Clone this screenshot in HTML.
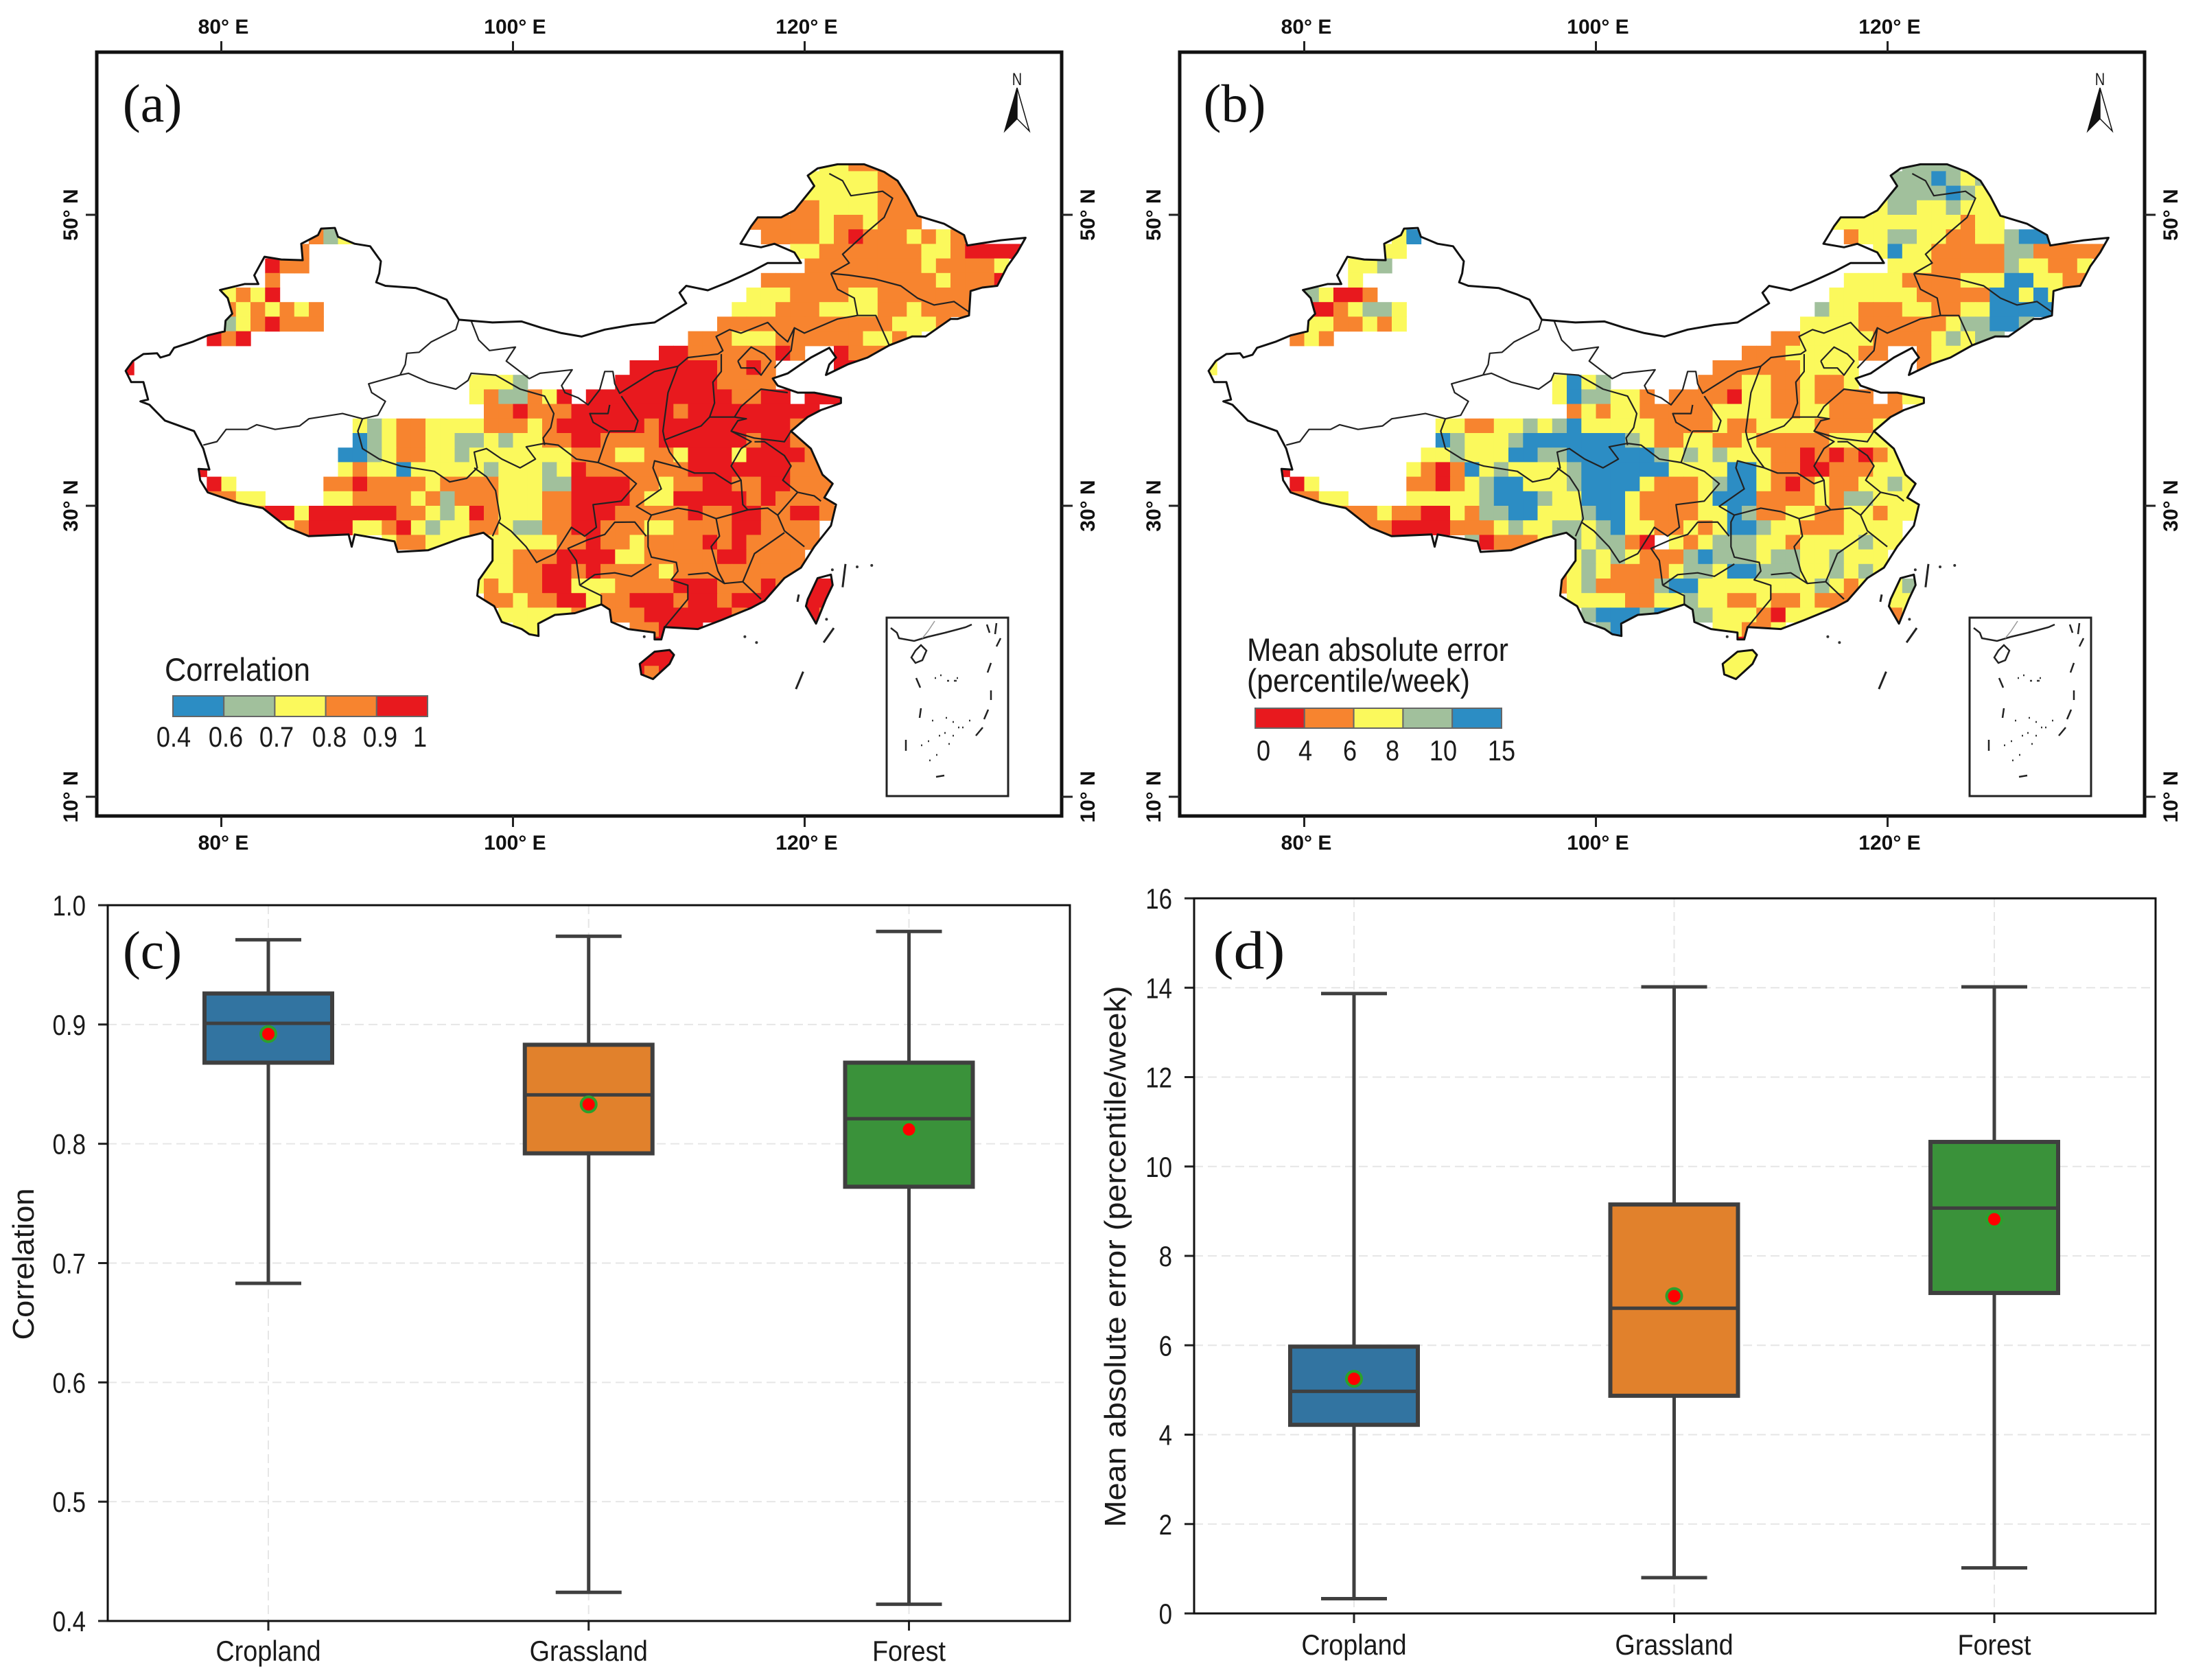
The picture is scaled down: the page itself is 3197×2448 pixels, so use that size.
<!DOCTYPE html>
<html lang="en">
<head>
<meta charset="utf-8">
<title>Correlation and mean absolute error maps and box plots</title>
<style>
html,body{margin:0;padding:0;background:#fff;}
svg{display:block;}
text{font-family:"Liberation Sans",Arial,sans-serif;fill:#1a1a1a;}
.serif{font-family:"Liberation Serif","Times New Roman",serif;fill:#111;}
.geo{font-weight:bold;font-size:30px;fill:#111;}
</style>
</head>
<body>
<svg id="fig" xmlns="http://www.w3.org/2000/svg" width="3197" height="2448" viewBox="0 0 3197 2448">
<rect x="0" y="0" width="3197" height="2448" fill="#ffffff"/>
</svg>
<script>
// ---------- map data ----------
var lonTicks = [80, 100, 120];
var latTicks = [50, 30, 10];

// Heatmap cells: "lat:lon:classes", one class letter per 1 degree cell (r,o,y,g,b)
var correlationRows = [
"53:121:yyooo","52:120:yyyyyoo","51:120:yyyyyooo","50:119:ooyyyyooo","49:116:oooooyooyooo",
"48:86:ogy","48:117:ooooyoroooyoyo",
"47:85:o","47:119:yyoooooooyyorrrr",
"46:83:roo","46:120:ooooooooyooooy",
"45:83:o","45:117:ooooooooooooyooor",
"44:80:yoyr","44:116:yyyooooyyooooooo",
"43:80:oyoyoyo","43:115:yyyoooyyyyooyoooo",
"42:80:gyorooo","42:114:ooooooooooooyyyo",
"41:79:ror","41:112:oooyyyoooooo","41:124:yyoy",
"40:110:rrooooooro","40:122:rooo",
"39:73:r","39:108:rrrrrrooro","39:122:rro",
"38:97:yyyg","38:107:rrrrrrroooo",
"37:97:yoggoyr","37:105:rrrrrrrrrroorr","37:120:rrr",
"36:98:oorooorr","36:105:rrrrrrorrrrrrrrr",
"35:89:ygyooyyyyoooyorr","35:105:rrrrorrrrrrrrro",
"34:89:bgyooyyggygyyoor","34:105:roooorrrrrrorrooo",
"33:88:bbgyooyygyyyyyyyo","33:105:ooyyooyrrryrrrroo",
"32:78:r","32:88:yoyybyyyyygyyygyr","32:105:ooooooorrrrrrrooo",
"31:79:ry","31:87:oorooooyooooyyyggr","31:105:rrrooyoorroorroooo",
"30:79:ooyy","30:87:yyooooyogoooyyyoor","30:105:rrroyyrrrrroroooo",
"29:81:oorryrrrrrrooygyroyyyoor","29:105:rroooooroorroorroo",
"28:84:yorrryyorygyyooyggoor","28:105:roooyyoooorroooo",
"27:91:yooyyyyyyyyyoor","27:105:rooyoooororooooo",
"26:98:yyooorr","26:105:rryyooooorroooo",
"25:97:yyyoorror","25:105:rooooyooooooooo",
"24:97:yoyoorry","24:105:yyoooorrroooro","24:120:rr",
"23:98:ooyoorr","23:105:yoorrrorrorrr","23:120:rr",
"22:99:yyyyyo","22:105:oooorrrrrro","22:120:ro",
"21:100:yy","21:108:oorrr","21:120:r",
"20:101:y","20:109:rr","19:108:rrr","18:108:ror"
];
var maeRows = [
"53:121:ggggg","52:120:gggbgyg","51:120:ggggbgyy","50:119:yggyygyyy","49:116:yyyyyyyyyoyy",
"48:86:yb","48:117:oyyggyyooyygbb",
"47:85:yy","47:119:ybyyoooooggooooo",
"46:83:yyg","46:120:yyyooooogyyooy",
"45:83:y","45:117:yyyyooooyyybbyyoo",
"44:80:gyrro","44:116:yyyyyyooooobbyby",
"43:80:rroyggy","43:115:gyyoooyyooyybbbbb",
"42:80:yyooyoy","42:114:yyyyooooooyggbbg",
"41:79:oyo","41:112:ooyyyyyooooygygg",
"40:110:oooyyyyyoo","40:122:oyyy",
"39:73:y","39:108:ooooooyyyy","39:122:oy",
"38:97:ybyg","38:107:oooyyooyooy",
"37:97:ybggyyo","37:105:ooooryyooyoooo","37:120:oyy",
"36:98:oyoyyoo","36:105:oooyyyyooyyooooo",
"35:89:yyooyygygbyyyyyo","35:105:oooyooyyyyooooy",
"34:89:bgyyygbbbbbbbgyo","34:105:oyyooyoooooyyyyy",
"33:88:yygyyybbggbbbbbbg","33:105:ygygyyyoorororoyy",
"32:78:r","32:87:yorobygyyyygbbbbbby","32:105:yyyybbyoorroooyyyy",
"31:79:ry","31:87:ooroygbbyyygbbbbyo","31:105:ooygbbyoroyooyygy",
"30:79:ooyy","30:87:yyyyygbbbgyybbbyoo","30:105:ooybbbooooyoggyyy",
"29:81:ooooyoorryoggbbyyygbbyoo","29:105:ooyybgooyyooyyoyy",
"28:84:oorrrroooygyyggygbyyo","28:105:oyoybbgyyoooyyyy",
"27:91:groooyggygg","27:102:or","27:105:yoygggyyoyyyygyy",
"26:98:ygygyoo","26:105:ogbgggyggyygyyy",
"25:97:oygyoooo","25:105:yggybbgggyygygy",
"24:97:oygoooog","24:105:bbyyyyyyyygyoy","24:120:yg",
"23:98:yyyyooy","23:105:ygyyooyooyooo","23:120:yy",
"22:99:gbbbgb","22:105:bggyyyoryyy","22:120:oy",
"21:100:gb","21:108:yyooy","21:120:r",
"20:101:b","20:109:rr","19:108:yyy","18:108:yyy"
];

// Territory outlines as [lon, lat]
var mainlandOutline = [[73.44,39.27],[73.93,39.95],[74.66,40.43],[75.6,40.48],[75.82,40.19],[76.45,40.38],[76.76,40.86],[78.02,41.27],[79.07,41.71],[80.23,41.99],[80.29,42.72],[80.75,43.2],[80.44,44.28],[79.91,44.83],[81.59,45.24],[82.54,45.24],[82.26,45.84],[82.96,47.12],[84.11,46.93],[85.58,46.88],[85.48,48.01],[86.63,48.61],[86.84,49.05],[87.79,49.1],[88,48.49],[89.15,48.01],[90.2,47.84],[90.94,46.81],[90.83,45.97],[90.62,45.36],[91.25,45.12],[93.35,44.96],[94.61,44.52],[95.45,44.16],[96.29,42.79],[98.6,42.6],[100.59,42.67],[101.96,42.23],[103.33,41.87],[104.7,41.63],[106.29,42.11],[108.12,42.43],[109.71,42.6],[111.31,43.56],[111.88,43.92],[111.42,44.64],[111.88,45.12],[113.36,44.81],[114.73,45.36],[116.33,46.09],[117.47,46.69],[119.75,46.69],[119.3,47.41],[117.93,48.01],[117.01,47.77],[115.6,48.01],[116.33,49.21],[116.78,49.82],[118.38,49.82],[119.3,50.3],[120.66,51.98],[120.21,52.7],[120.89,53.19],[122.26,53.47],[124.08,53.47],[125.45,52.95],[126.37,52.34],[127.05,51.26],[127.73,49.94],[129.56,49.38],[130.93,48.61],[131.16,47.89],[133.44,48.25],[135.15,48.42],[134.58,47.41],[133.89,46.45],[133.21,45.12],[132.18,45],[131.38,44.76],[131.27,43.08],[130.47,42.84],[130.01,42.84],[128.3,41.64],[127.39,41.64],[125.8,41.03],[124.31,40.19],[122.94,39.71],[121.46,38.99],[121.69,39.71],[122.15,40.19],[121.69,40.86],[120.43,40.19],[118.84,39.1],[117.81,38.75],[118.15,38.26],[119.52,37.78],[120.66,37.78],[122.49,37.42],[122.49,37.06],[121.12,36.58],[120.2,36.1],[119.07,35.13],[120.43,33.93],[121.23,32.13],[121.92,31.52],[121.35,30.56],[122.15,30.08],[121.8,28.63],[120.66,27.19],[119.75,25.75],[118.61,25.03],[117.24,23.46],[116.33,22.98],[114.28,22.14],[112.68,21.53],[110.4,21.66],[110.17,20.81],[109.71,20.81],[109.71,21.29],[107.89,21.53],[106.75,22.02],[106.63,22.86],[106.06,23.22],[104.24,22.62],[102.87,22.5],[101.73,21.9],[101.75,21.05],[101.12,21.17],[100.6,21.53],[99.23,22.02],[98.71,23.1],[97.55,23.82],[97.66,24.9],[98.6,26.23],[98.6,27.67],[97.97,28.15],[96.5,27.79],[94.19,26.95],[92.09,26.83],[91.88,27.55],[89.15,28.03],[88.94,27.19],[88.73,28.03],[86,27.91],[84.53,28.51],[82.85,29.84],[81.17,30.2],[79.07,30.92],[78.55,31.76],[78.44,32.54],[79.18,32.49],[78.76,33.93],[78.13,35.13],[76.13,35.86],[75.08,36.94],[74.45,37.18],[74.98,37.3],[74.66,38.5],[73.82,38.5]];
var taiwanOutline = [[121.8,25.27],[120.89,25.03],[120.21,23.58],[120.09,23.1],[120.78,21.9],[121.46,23.58],[121.92,24.55]];
var hainanOutline = [[110.74,20.09],[109.71,19.97],[108.69,19.13],[108.8,18.41],[109.6,18.09],[110.74,19.13],[111.04,19.75]];
var provinceLines = [
[[96.29,42.79],[96.08,42.11],[94.4,41.27],[93.56,40.55],[92.72,40.48],[92.61,39.71],[92.26,38.99]],
[[92.26,38.99],[92.83,39.11],[94.19,38.5],[96.08,38.02],[96.92,38.62],[97.13,39.11],[98.81,38.98],[100.49,38.02],[102.17,37.54],[102.8,36.34],[102.59,35.37],[102.07,34.66],[102.17,34.17]],
[[92.26,38.99],[90.1,38.38],[90.31,37.78],[91.25,37.18],[90.73,36.22],[89.68,35.98]],
[[89.68,35.98],[88.31,36.34],[86,35.98],[85.37,35.49],[83.69,35.25],[82.43,35.57],[81.8,35.25],[80.33,35.25],[79.7,34.41],[78.76,34.17]],
[[89.68,35.98],[89.36,35.13],[89.68,33.93],[90.83,33.21],[92.3,32.73],[94.61,32.37],[95.66,31.64],[96.82,31.88],[97.55,32.61],[97.34,33.69],[98.18,33.93],[99.23,33.21],[100.49,32.61],[101.54,33.21],[100.91,34.05],[102.17,34.29],[103.1,34.17],[104.35,33.21],[105.84,32.97]],
[[97.34,32.61],[98.18,32],[98.81,31.04],[99.13,29.12],[98.6,27.91]],
[[99.02,28.87],[99.86,28.27],[100.9,27.19],[101.62,26.11],[102.87,26.71],[103.55,27.79],[104.01,28.52],[104.92,27.91],[105.72,28.52],[105.49,30.08],[107.43,30.32],[108.46,31.52],[107.43,32.37],[105.84,32.97],[106.41,34.65],[106.63,35.13]],
[[96.29,42.79],[97.13,42.72],[97.65,41.39],[98.39,40.67],[100.17,40.91],[99.54,39.95],[101.12,38.74],[101.85,39.11],[104.06,39.35],[103.33,38.26],[103.56,37.78],[104.47,37.42],[105.15,36.94],[105.95,37.98],[106.29,39.23],[106.85,39.23],[106.98,38.38],[107.32,37.73],[108.35,38.38],[109.71,39.23],[111.31,39.59],[112,40.19],[114.05,40.43],[114.39,40.67],[113.93,41.63],[114.85,42.11],[115.64,41.87],[117.47,42.6],[118.15,41.87],[118.84,41.27],[119.3,42.23],[119.98,41.87],[122.26,42.84],[123.63,43.08],[124.88,43.08],[125.8,41.03]],
[[121.8,45.97],[123.06,45.85],[124.77,45.6],[126.59,45.12],[127.73,44.28],[128.87,43.8],[130.24,44.04],[131.27,43.32]],
[[121.8,45.97],[122.26,44.88],[123.4,44.28],[123.63,43.08]],
[[121.8,45.97],[123.06,46.69],[122.6,47.29],[124.31,48.85],[125.45,49.82],[126.03,51.14],[125.34,51.62],[123.17,51.31],[122.6,52.34],[121.69,52.83]],
[[111.31,39.59],[110.63,37.78],[110.28,35.13],[110.4,34.53],[112.9,35.49],[113.48,36.1],[113.82,37.06],[113.71,38.5],[114.28,39.23],[114.28,40.43]],
[[110.4,34.53],[110.74,33.69],[111.54,32.61],[112.45,32.25],[113.82,32.25],[114.96,31.52],[115.64,31.76],[114.96,32.73],[115.64,33.93],[116.33,34.41],[114.96,35.13],[115.42,35.85],[116,35.98],[115.19,36.1],[113.48,36.1]],
[[115.19,36.1],[115.64,36.82],[117.01,38.02],[118.84,37.78]],
[[114.96,35.13],[116.56,34.65],[118.61,34.4],[119.07,35.13]],
[[115.42,39.95],[116.33,40.91],[117.24,40.43],[117.7,39.95],[117.01,38.98],[116.56,39.47],[115.64,39.47],[115.42,39.95]],
[[119.3,42.23],[119.07,40.67],[117.93,39.47]],
[[116.56,34.4],[117.24,34.41],[118.61,33.45],[119.07,32.73],[118.5,31.76],[119.52,30.93],[120.66,30.68],[121.12,30.32]],
[[115.64,31.76],[115.76,30.08],[116.1,29.72],[117.47,29.84],[118.15,29.36],[119.52,30.93]],
[[118.15,29.36],[118.61,28.28],[119.98,27.19]],
[[118.61,28.15],[116.56,26.71],[115.76,24.78],[117.01,23.58]],
[[116.1,29.72],[113.93,29.12],[114.16,27.91],[113.59,27.19],[114.05,25.51],[114.5,24.66],[115.76,24.78]],
[[113.93,29.12],[112.68,29.6],[111.31,29.84],[109.49,29.36],[109.26,28.88],[109.26,27.19],[109.49,26.47],[111.2,26.11],[111.31,25.51],[110.85,24.91],[111.99,24.54],[111.99,23.58],[110.4,21.66]],
[[111.54,32.61],[109.71,33.09],[109.6,32.61],[110.17,31.16],[108.46,29.96],[109.49,29.36]],
[[112,25.27],[113.36,25.39],[114.5,24.66]],
[[104.58,24.54],[105.61,25.27],[106.98,25.39],[108.12,25.15],[109.49,26]],
[[104.58,24.54],[106.06,23.82],[106.06,23.22]],
[[104.58,24.54],[104.35,26.23],[103.78,27.07],[105.15,27.67],[106.29,28.03],[106.98,28.87],[108.35,28.88],[109.14,27.91]],
[[106.63,36.94],[106.52,36.34],[105.27,36.34],[105.49,35.74],[106.52,35.13]],
[[106.63,35.13],[108.35,35.13],[108.57,35.85],[107.43,37.54]]
];
var seaDashes = [[[122.8,26],[122.6,24.4]],[[122.0,21.6],[121.3,20.6]],[[119.9,18.6],[119.4,17.4]],[[119.6,23.9],[119.5,23.4]]];
var seaDots = [[115.9,21.0],[116.7,20.6],[123.6,25.8],[124.6,25.9],[121.9,25.6],[121.5,22.2],[109.0,21.0]];

// ---------- legend data ----------
var correlationLegendLabels = ["0.4","0.6","0.7","0.8","0.9","1"];
var maeLegendLabels = ["0","4","6","8","10","15"];
var correlationLegendClasses = ["b","g","y","o","r"];
var maeLegendClasses = ["r","o","y","g","b"];

// ---------- box plot data ----------
var landCategories = ["Cropland","Grassland","Forest"];
var corrTicks = [0.4,0.5,0.6,0.7,0.8,0.9,1.0];
var corrWhiskerLow = [0.683,0.424,0.414];
var corrQ1 = [0.868,0.792,0.764];
var corrMedian = [0.901,0.841,0.821];
var corrQ3 = [0.926,0.883,0.868];
var corrWhiskerHigh = [0.971,0.974,0.978];
var corrMean = [0.892,0.833,0.812];
var maeTicks = [0,2,4,6,8,10,12,14,16];
var maeWhiskerLow = [0.33,0.8,1.02];
var maeQ1 = [4.22,4.87,7.17];
var maeMedian = [4.97,6.83,9.07];
var maeQ3 = [5.97,9.15,10.55];
var maeWhiskerHigh = [13.87,14.02,14.02];
var maeMean = [5.25,7.1,8.82];

// ---------- drawing helpers ----------
var NS = "http://www.w3.org/2000/svg";
var fig = document.getElementById("fig");
var classColors = {r:"#e8191e",o:"#f7842f",y:"#fbf95c",g:"#a1c09c",b:"#2c8dc4"};
var boxColors = ["#3274a1","#e1812c","#3a923a"];

function add(parent, tag, attrs, name){
  var el = document.createElementNS(NS, tag);
  for (var k in attrs) el.setAttribute(k, attrs[k]);
  
  
  parent.appendChild(el);
  return el;
}
function label(parent, str, x, y, size, opts, name){
  opts = opts || {};
  var sx = opts.sx || 1, rot = opts.rot || 0;
  var t = "translate(" + x + "," + y + ")" + (rot ? " rotate(" + rot + ")" : "") + " scale(" + sx + ",1)";
  var a = {transform:t, "font-size":size, "text-anchor":opts.anchor || "middle"};
  if (opts.cls) a["class"] = opts.cls;
  if (opts.textLength) { a.textLength = opts.textLength; a.lengthAdjust = "spacingAndGlyphs"; }
  var el = add(parent, "text", a, name);
  el.textContent = str;
  return el;
}
function pathFrom(points, toX, toY, close){
  var d = "";
  for (var i = 0; i < points.length; i++) d += (i ? "L" : "M") + toX(points[i][0]).toFixed(1) + " " + toY(points[i][1]).toFixed(1);
  return d + (close ? "Z" : "");
}

// ---------- map panel ----------
function drawMap(cfg){
  var g = add(fig, "g", {}, cfg.id + "-map-panel");
  var dx = cfg.dx;
  var lonX = function(lon){ return 322.5 + dx + (lon - 80) * 21.25; };
  var latY = function(lat){ return 737 - (lat - 30) * 21.2; };
  var left = 141 + dx, right = 1547 + dx, top = 76, bottom = 1189;

  add(g, "rect", {x:left, y:top, width:right-left, height:bottom-top, fill:"#fff", stroke:"#111", "stroke-width":5}, cfg.id + "-map-frame");

  lonTicks.forEach(function(lon){
    var x = lonX(lon);
    add(g, "line", {x1:x, x2:x, y1:top-16, y2:top, stroke:"#222", "stroke-width":3}, "top-tick");
    add(g, "line", {x1:x, x2:x, y1:bottom, y2:bottom+16, stroke:"#222", "stroke-width":3}, "bottom-tick");
    label(g, lon + "\u00B0 E", x + 3, 49, 30, {cls:"geo"}, "top-longitude-label");
    label(g, lon + "\u00B0 E", x + 3, 1238, 30, {cls:"geo"}, "bottom-longitude-label");
  });
  latTicks.forEach(function(lat){
    var y = latY(lat);
    add(g, "line", {x1:left-16, x2:left, y1:y, y2:y, stroke:"#222", "stroke-width":3}, "left-tick");
    add(g, "line", {x1:right, x2:right+16, y1:y, y2:y, stroke:"#222", "stroke-width":3}, "right-tick");
    label(g, lat + "\u00B0 N", 113 + dx, y, 30, {cls:"geo", rot:-90}, "left-latitude-label");
    label(g, lat + "\u00B0 N", 1595 + dx, y, 30, {cls:"geo", rot:-90}, "right-latitude-label");
  });

  var outlinePaths = pathFrom(mainlandOutline, lonX, latY, true) + pathFrom(taiwanOutline, lonX, latY, true) + pathFrom(hainanOutline, lonX, latY, true);
  var defs = add(g, "defs", {}, "map-defs");
  var clip = add(defs, "clipPath", {id:cfg.id + "-clip"}, "country-clip");
  add(clip, "path", {d:outlinePaths}, "country-clip-path");

  var cells = add(g, "g", {"clip-path":"url(#" + cfg.id + "-clip)"}, cfg.id + "-heatmap");
  cfg.rows.forEach(function(row){
    var parts = row.split(":");
    var lat = +parts[0], lon0 = +parts[1], codes = parts[2];
    for (var i = 0; i < codes.length; i++) {
      var x0 = lonX(lon0 + i), y0 = latY(lat + 1);
      var cell = document.createElementNS(NS, "rect");
      cell.setAttribute("x", x0.toFixed(1));
      cell.setAttribute("y", y0.toFixed(1));
      cell.setAttribute("width", (lonX(lon0 + i + 1) - x0 + 0.6).toFixed(1));
      cell.setAttribute("height", (latY(lat) - y0 + 0.6).toFixed(1));
      cell.setAttribute("fill", classColors[codes.charAt(i)]);
      
      
      cells.appendChild(cell);
    }
  });

  provinceLines.forEach(function(line){
    add(g, "path", {d:pathFrom(line, lonX, latY, false), fill:"none", stroke:"#222", "stroke-width":2.2, "stroke-linejoin":"round"}, "province-boundary");
  });
  add(g, "path", {d:outlinePaths, fill:"none", stroke:"#111", "stroke-width":3, "stroke-linejoin":"round"}, "country-outline");
  seaDashes.forEach(function(line){
    add(g, "path", {d:pathFrom(line, lonX, latY, false), fill:"none", stroke:"#222", "stroke-width":3}, "sea-boundary-dash");
  });
  seaDots.forEach(function(p){
    add(g, "circle", {cx:lonX(p[0]), cy:latY(p[1]), r:2, fill:"#333"}, "island-dot");
  });

  // panel letter
  label(g, cfg.letter, cfg.letterX + dx, 177, 78, {cls:"serif"}, cfg.id + "-panel-label");

  // north arrow
  var nx = 1482 + dx;
  label(g, "N", nx, 124, 25, {sx:0.8}, "north-arrow-letter");
  add(g, "path", {d:"M"+nx+" 128L"+(nx-18)+" 191L"+nx+" 173Z", fill:"#111", stroke:"#111", "stroke-width":1.5}, "north-arrow-left");
  add(g, "path", {d:"M"+nx+" 128L"+(nx+18)+" 191L"+nx+" 173Z", fill:"#fff", stroke:"#111", "stroke-width":1.5}, "north-arrow-right");

  // inset
  var ix = 1292 + dx, iy = 900;
  var inset = add(g, "g", {transform:"translate(" + ix + "," + iy + ")"}, "south-china-sea-inset");
  add(inset, "rect", {x:0, y:0, width:177, height:260, fill:"#fff", stroke:"#222", "stroke-width":3}, "inset-frame");
  add(inset, "path", {d:"M6 15L15 22L18 30L40 34L60 28L85 22L115 14L124 10", fill:"none", stroke:"#222", "stroke-width":2.5}, "inset-coast");
  add(inset, "path", {d:"M70 5L60 20L52 30", fill:"none", stroke:"#999", "stroke-width":1.5}, "inset-river");
  add(inset, "path", {d:"M42 48L50 40L58 48L52 62L42 66L36 58Z", fill:"#fff", stroke:"#222", "stroke-width":2.5}, "inset-hainan");
  add(inset, "path", {d:"M146 10L150 22M160 8L158 24M166 30L160 42M152 66L147 80M152 106L152 120M43 88L49 102M148 134L142 148M140 160L130 172M50 132L48 146M28 178L28 194M72 232L84 230", fill:"none", stroke:"#222", "stroke-width":2.5}, "inset-dashes");
  add(inset, "path", {d:"M70 88h2M78 84h2M88 92h3M98 92h4M102 88h2M66 150h2M86 146h2M96 152h2M104 160h2M84 168h2M76 172h2M60 180h2M50 186h2M96 172h2M110 160h2M120 150h2M72 200h2M62 208h2M90 184h2",fill:"none",stroke:"#333","stroke-width":2.5}, "inset-islands");

  // legend
  cfg.titles.forEach(function(tt){
    label(g, tt.text, tt.x + dx, tt.y, 47, {anchor:"start", textLength:tt.w}, "legend-title");
  });
  var barLeft = cfg.barLeft + dx;
  var segW = (cfg.barRight - cfg.barLeft) / cfg.legendClasses.length;
  cfg.legendClasses.forEach(function(c, i){
    add(g, "rect", {x:barLeft + i*segW, y:cfg.barTop, width:segW, height:cfg.barH, fill:classColors[c], stroke:"#666", "stroke-width":2}, "legend-swatch");
  });
  cfg.legendLabels.forEach(function(t, i){
    label(g, t, cfg.labelX[i] + dx, cfg.labelY, 42, {sx:0.86}, "legend-tick-label");
  });
}

drawMap({id:"correlation", dx:0, rows:correlationRows, letter:"(a)", letterX:222,
  titles:[{text:"Correlation", x:240, y:992, w:212}],
  barLeft:252, barRight:623, barTop:1014, barH:30, labelY:1088,
  legendClasses:correlationLegendClasses, legendLabels:correlationLegendLabels,
  labelX:[253,329,403,480,554,612]});
drawMap({id:"mae", dx:1578, rows:maeRows, letter:"(b)", letterX:221,
  titles:[{text:"Mean absolute error", x:239, y:963, w:381},{text:"(percentile/week)", x:239, y:1008, w:325}],
  barLeft:251, barRight:610, barTop:1032, barH:29, labelY:1108,
  legendClasses:maeLegendClasses, legendLabels:maeLegendLabels,
  labelX:[263,324,389,451,525,610]});

// ---------- box plot panel ----------
function drawBox(cfg){
  var g = add(fig, "g", {}, cfg.id + "-boxplot-panel");
  var L = cfg.left, R = cfg.right, T = cfg.top, B = cfg.bottom;
  var minV = cfg.ticks[0], maxV = cfg.ticks[cfg.ticks.length - 1];
  var yOf = function(v){ return B - (v - minV) / (maxV - minV) * (B - T); };
  var n = landCategories.length;
  var step = (cfg.xLast - cfg.xFirst) / (n - 1);
  var xOf = function(i){ return cfg.xFirst + i * step; };

  add(g, "rect", {x:L, y:T, width:R-L, height:B-T, fill:"#fff"}, cfg.id + "-plot-area");
  cfg.ticks.forEach(function(v){
    var y = yOf(v);
    if (v !== minV && v !== maxV) add(g, "line", {x1:L, x2:R, y1:y, y2:y, stroke:"#e6e6e6", "stroke-width":2, "stroke-dasharray":"13 7"}, "horizontal-gridline");
    add(g, "line", {x1:L-14, x2:L, y1:y, y2:y, stroke:"#222", "stroke-width":3}, "y-tick");
    label(g, cfg.tickFormat(v), cfg.labelRight, y + 15, 42, {anchor:"end", sx:0.83}, "y-tick-label");
  });
  landCategories.forEach(function(name, i){
    var x = xOf(i);
    add(g, "line", {x1:x, x2:x, y1:T, y2:B, stroke:"#e6e6e6", "stroke-width":2, "stroke-dasharray":"13 7"}, "vertical-gridline");
    add(g, "line", {x1:x, x2:x, y1:B, y2:B+14, stroke:"#222", "stroke-width":3}, "x-tick");
    label(g, name, x, cfg.catY, 42, {sx:0.9}, "x-category-label");
  });
  landCategories.forEach(function(name, i){
    var x = xOf(i), hw = 93, cap = 48;
    var key = name.toLowerCase();
    add(g, "line", {x1:x, x2:x, y1:yOf(cfg.high[i]), y2:yOf(cfg.low[i]), stroke:"#3f3f3f", "stroke-width":5}, key + "-whisker");
    add(g, "line", {x1:x-cap, x2:x+cap, y1:yOf(cfg.high[i]), y2:yOf(cfg.high[i]), stroke:"#3f3f3f", "stroke-width":5}, key + "-whisker-cap-high");
    add(g, "line", {x1:x-cap, x2:x+cap, y1:yOf(cfg.low[i]), y2:yOf(cfg.low[i]), stroke:"#3f3f3f", "stroke-width":5}, key + "-whisker-cap-low");
    add(g, "rect", {x:x-hw, y:yOf(cfg.q3[i]), width:2*hw, height:yOf(cfg.q1[i])-yOf(cfg.q3[i]), fill:boxColors[i], stroke:"#3f3f3f", "stroke-width":6}, key + "-box");
    add(g, "line", {x1:x-hw, x2:x+hw, y1:yOf(cfg.median[i]), y2:yOf(cfg.median[i]), stroke:"#3f3f3f", "stroke-width":5}, key + "-median-line");
    add(g, "circle", {cx:x, cy:yOf(cfg.mean[i]), r:11, fill:"#ff0000", stroke:"#2ca02c", "stroke-width":4}, key + "-mean-marker");
  });
  add(g, "rect", {x:L, y:T, width:R-L, height:B-T, fill:"none", stroke:"#111", "stroke-width":3}, cfg.id + "-plot-frame");
  label(g, cfg.letter, cfg.letterX, cfg.letterY, 78, {cls:"serif", textLength:cfg.letterW}, cfg.id + "-panel-label");
  label(g, cfg.yTitle, cfg.yTitleX, cfg.yTitleY, 44, {rot:-90, textLength:cfg.yTitleW}, "y-axis-title");
}

drawBox({id:"correlation", left:157, right:1559, top:1319, bottom:2362, xFirst:391, xLast:1324.5,
  ticks:corrTicks, tickFormat:function(v){ return v.toFixed(1); }, labelRight:125, catY:2420,
  low:corrWhiskerLow, q1:corrQ1, median:corrMedian, q3:corrQ3, high:corrWhiskerHigh, mean:corrMean,
  letter:"(c)", letterX:222, letterY:1411, letterW:86,
  yTitle:"Correlation", yTitleX:49, yTitleY:1842, yTitleW:221});
drawBox({id:"mae", left:1740, right:3141, top:1309, bottom:2351, xFirst:1973, xLast:2906,
  ticks:maeTicks, tickFormat:function(v){ return String(v); }, labelRight:1708, catY:2411,
  low:maeWhiskerLow, q1:maeQ1, median:maeMedian, q3:maeQ3, high:maeWhiskerHigh, mean:maeMean,
  letter:"(d)", letterX:1820, letterY:1411, letterW:105,
  yTitle:"Mean absolute error (percentile/week)", yTitleX:1640, yTitleY:1831, yTitleW:789});
</script>
</body>
</html>
